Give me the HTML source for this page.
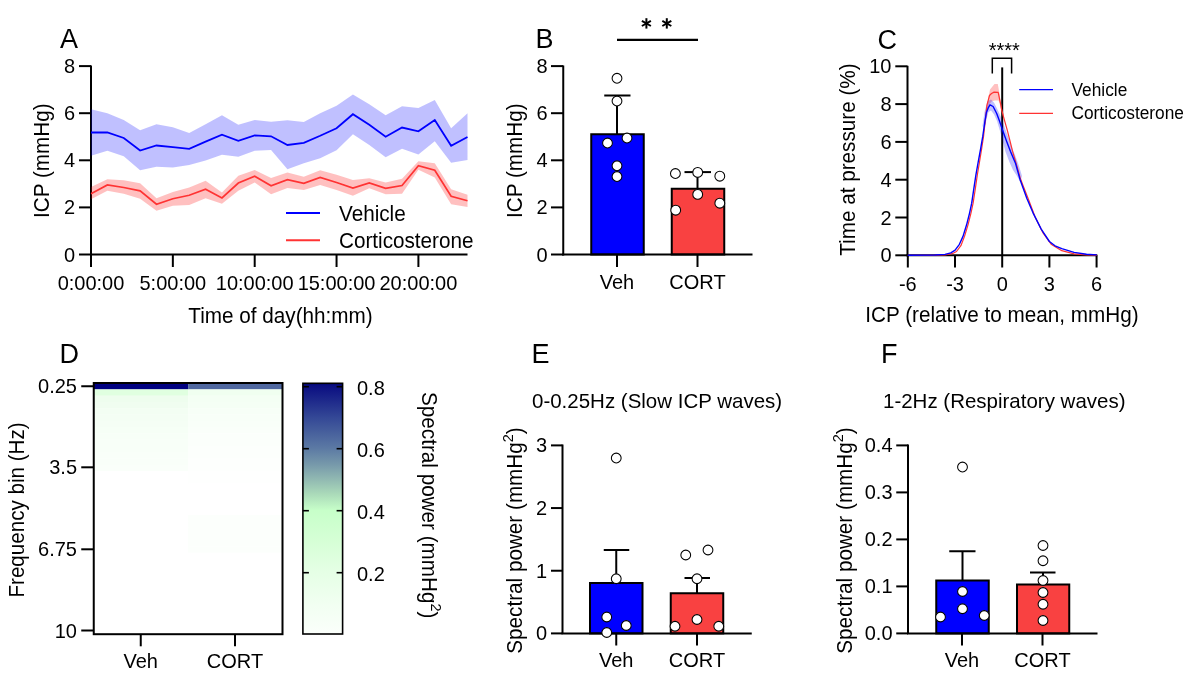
<!DOCTYPE html>
<html><head><meta charset="utf-8"><style>
html,body{margin:0;padding:0;background:#fff;}
svg{display:block;font-family:"Liberation Sans", sans-serif;will-change:transform;}
text{fill:#000;}
</style></head><body>
<svg width="1200" height="680" viewBox="0 0 1200 680">
<rect width="1200" height="680" fill="#fff"/>
<line x1="91" y1="65.5" x2="91" y2="255.5" stroke="#000" stroke-width="2" stroke-linecap="butt"/>
<line x1="90" y1="254.5" x2="467.5" y2="254.5" stroke="#000" stroke-width="2" stroke-linecap="butt"/>
<line x1="79" y1="254.5" x2="91" y2="254.5" stroke="#000" stroke-width="2" stroke-linecap="butt"/>
<text x="0" y="0" font-size="20" text-anchor="end" transform="translate(75.00,261.50) scale(1,1.05)" >0</text>
<line x1="79" y1="207.4" x2="91" y2="207.4" stroke="#000" stroke-width="2" stroke-linecap="butt"/>
<text x="0" y="0" font-size="20" text-anchor="end" transform="translate(75.00,214.40) scale(1,1.05)" >2</text>
<line x1="79" y1="160.3" x2="91" y2="160.3" stroke="#000" stroke-width="2" stroke-linecap="butt"/>
<text x="0" y="0" font-size="20" text-anchor="end" transform="translate(75.00,167.30) scale(1,1.05)" >4</text>
<line x1="79" y1="113.19999999999999" x2="91" y2="113.19999999999999" stroke="#000" stroke-width="2" stroke-linecap="butt"/>
<text x="0" y="0" font-size="20" text-anchor="end" transform="translate(75.00,120.20) scale(1,1.05)" >6</text>
<line x1="79" y1="66.1" x2="91" y2="66.1" stroke="#000" stroke-width="2" stroke-linecap="butt"/>
<text x="0" y="0" font-size="20" text-anchor="end" transform="translate(75.00,73.10) scale(1,1.05)" >8</text>
<line x1="91.0" y1="254.5" x2="91.0" y2="267" stroke="#000" stroke-width="2" stroke-linecap="butt"/>
<text x="0" y="0" font-size="20" text-anchor="middle" transform="translate(91.00,290.00) scale(1,1.05)" >0:00:00</text>
<line x1="172.85000000000002" y1="254.5" x2="172.85000000000002" y2="267" stroke="#000" stroke-width="2" stroke-linecap="butt"/>
<text x="0" y="0" font-size="20" text-anchor="middle" transform="translate(172.85,290.00) scale(1,1.05)" >5:00:00</text>
<line x1="254.70000000000002" y1="254.5" x2="254.70000000000002" y2="267" stroke="#000" stroke-width="2" stroke-linecap="butt"/>
<text x="0" y="0" font-size="20" text-anchor="middle" transform="translate(254.70,290.00) scale(1,1.05)" >10:00:00</text>
<line x1="336.55" y1="254.5" x2="336.55" y2="267" stroke="#000" stroke-width="2" stroke-linecap="butt"/>
<text x="0" y="0" font-size="20" text-anchor="middle" transform="translate(336.55,290.00) scale(1,1.05)" >15:00:00</text>
<line x1="418.40000000000003" y1="254.5" x2="418.40000000000003" y2="267" stroke="#000" stroke-width="2" stroke-linecap="butt"/>
<text x="0" y="0" font-size="20" text-anchor="middle" transform="translate(418.40,290.00) scale(1,1.05)" >20:00:00</text>
<polygon points="91.00,109.20 107.37,113.30 123.74,120.00 140.11,130.30 156.48,124.20 172.85,127.20 189.22,133.00 205.59,124.20 221.96,115.30 238.33,124.70 254.70,120.00 271.07,121.70 287.44,120.30 303.81,122.00 320.18,113.30 336.55,105.80 352.92,94.50 369.29,104.20 385.66,115.30 402.03,106.30 418.40,108.00 434.77,100.00 451.14,128.30 467.51,113.30 467.51,160.00 451.14,162.80 434.77,141.20 418.40,154.50 402.03,148.80 385.66,157.20 369.29,145.00 352.92,134.20 336.55,150.30 320.18,158.30 303.81,163.30 287.44,169.20 271.07,150.00 254.70,150.80 238.33,156.70 221.96,154.70 205.59,160.50 189.22,165.00 172.85,167.50 156.48,166.70 140.11,170.30 123.74,156.30 107.37,150.80 91.00,155.80" fill="rgba(0,0,255,0.247)"/>
<polygon points="91.00,187.00 107.37,179.20 123.74,180.30 140.11,183.30 156.48,198.30 172.85,192.00 189.22,187.50 205.59,180.80 221.96,192.50 238.33,175.80 254.70,170.00 271.07,178.00 287.44,172.50 303.81,176.70 320.18,170.30 336.55,174.70 352.92,180.00 369.29,178.30 385.66,182.50 402.03,178.70 418.40,161.30 434.77,163.30 451.14,189.20 467.51,194.70 467.51,207.00 451.14,204.20 434.77,177.50 418.40,169.70 402.03,193.70 385.66,194.20 369.29,188.30 352.92,195.80 336.55,190.00 320.18,185.00 303.81,190.00 287.44,188.00 271.07,194.20 254.70,182.50 238.33,190.80 221.96,203.70 205.59,198.30 189.22,205.00 172.85,205.80 156.48,210.80 140.11,198.70 123.74,193.70 107.37,190.80 91.00,199.20" fill="rgba(255,0,0,0.247)"/>
<polyline points="91.00,132.50 107.37,132.50 123.74,138.00 140.11,150.50 156.48,145.50 172.85,147.20 189.22,148.80 205.59,141.70 221.96,134.70 238.33,140.80 254.70,135.30 271.07,136.30 287.44,145.00 303.81,142.80 320.18,135.80 336.55,128.30 352.92,114.20 369.29,124.70 385.66,136.70 402.03,127.50 418.40,131.30 434.77,120.00 451.14,145.80 467.51,137.00" fill="none" stroke="#0000ff" stroke-width="1.8" stroke-linejoin="miter"/>
<polyline points="91.00,193.70 107.37,185.00 123.74,187.50 140.11,190.80 156.48,204.20 172.85,198.70 189.22,195.30 205.59,189.20 221.96,198.00 238.33,183.00 254.70,176.30 271.07,185.80 287.44,179.70 303.81,183.30 320.18,177.50 336.55,182.50 352.92,188.00 369.29,183.00 385.66,188.30 402.03,185.50 418.40,165.80 434.77,170.30 451.14,196.30 467.51,200.80" fill="none" stroke="#ff3333" stroke-width="1.7" stroke-linejoin="miter"/>
<text x="0" y="0" font-size="20.7" text-anchor="middle" transform="translate(280.50,323.00) scale(1,1.03)" >Time of day(hh:mm)</text>
<text x="0" y="0" font-size="20.7" text-anchor="middle" transform="translate(49,160.6) rotate(-90) scale(1,1.03)">ICP (mmHg)</text>
<text x="60" y="48" font-size="27" text-anchor="start" >A</text>
<line x1="286" y1="213" x2="320" y2="213" stroke="#0000ff" stroke-width="2" stroke-linecap="butt"/>
<line x1="286" y1="240.3" x2="320" y2="240.3" stroke="#ff3333" stroke-width="2" stroke-linecap="butt"/>
<text x="0" y="0" font-size="20.7" text-anchor="start" transform="translate(339.00,220.80) scale(1,1.03)" >Vehicle</text>
<text x="0" y="0" font-size="20.7" text-anchor="start" transform="translate(339.00,247.50) scale(1,1.03)" >Corticosterone</text>
<rect x="591.25" y="134.25" width="52.5" height="120.25" fill="#0000ff" stroke="#000" stroke-width="2"/>
<rect x="671.75" y="188.75" width="52.5" height="65.75" fill="#f94141" stroke="#000" stroke-width="2"/>
<line x1="617" y1="134.25" x2="617" y2="95.5" stroke="#000" stroke-width="2" stroke-linecap="butt"/>
<line x1="604.25" y1="95.5" x2="630.5" y2="95.5" stroke="#000" stroke-width="2" stroke-linecap="butt"/>
<line x1="697.5" y1="188.75" x2="697.5" y2="172.1" stroke="#000" stroke-width="2" stroke-linecap="butt"/>
<line x1="684.5" y1="172.1" x2="711" y2="172.1" stroke="#000" stroke-width="2" stroke-linecap="butt"/>
<line x1="563.25" y1="65.5" x2="563.25" y2="255.5" stroke="#000" stroke-width="2" stroke-linecap="butt"/>
<line x1="562.25" y1="254.5" x2="752.5" y2="254.5" stroke="#000" stroke-width="2" stroke-linecap="butt"/>
<line x1="551" y1="254.5" x2="563.25" y2="254.5" stroke="#000" stroke-width="2" stroke-linecap="butt"/>
<text x="0" y="0" font-size="20" text-anchor="end" transform="translate(547.50,261.50) scale(1,1.05)" >0</text>
<line x1="551" y1="207.4" x2="563.25" y2="207.4" stroke="#000" stroke-width="2" stroke-linecap="butt"/>
<text x="0" y="0" font-size="20" text-anchor="end" transform="translate(547.50,214.40) scale(1,1.05)" >2</text>
<line x1="551" y1="160.3" x2="563.25" y2="160.3" stroke="#000" stroke-width="2" stroke-linecap="butt"/>
<text x="0" y="0" font-size="20" text-anchor="end" transform="translate(547.50,167.30) scale(1,1.05)" >4</text>
<line x1="551" y1="113.19999999999999" x2="563.25" y2="113.19999999999999" stroke="#000" stroke-width="2" stroke-linecap="butt"/>
<text x="0" y="0" font-size="20" text-anchor="end" transform="translate(547.50,120.20) scale(1,1.05)" >6</text>
<line x1="551" y1="66.1" x2="563.25" y2="66.1" stroke="#000" stroke-width="2" stroke-linecap="butt"/>
<text x="0" y="0" font-size="20" text-anchor="end" transform="translate(547.50,73.10) scale(1,1.05)" >8</text>
<line x1="617" y1="254.5" x2="617" y2="267" stroke="#000" stroke-width="2" stroke-linecap="butt"/>
<line x1="697.5" y1="254.5" x2="697.5" y2="267" stroke="#000" stroke-width="2" stroke-linecap="butt"/>
<text x="0" y="0" font-size="20" text-anchor="middle" transform="translate(617.00,288.90) scale(1,1.05)" >Veh</text>
<text x="0" y="0" font-size="20" text-anchor="middle" transform="translate(697.50,288.90) scale(1,1.05)" >CORT</text>
<text x="0" y="0" font-size="20.7" text-anchor="middle" transform="translate(522,160.7) rotate(-90) scale(1,1.03)">ICP (mmHg)</text>
<text x="535.5" y="48" font-size="27" text-anchor="start" >B</text>
<circle cx="617" cy="78.25" r="4.9" fill="#fff" stroke="#000" stroke-width="1.05"/>
<circle cx="617" cy="101" r="4.9" fill="#fff" stroke="#000" stroke-width="1.05"/>
<circle cx="607.5" cy="143" r="4.9" fill="#fff" stroke="#000" stroke-width="1.05"/>
<circle cx="627" cy="138" r="4.9" fill="#fff" stroke="#000" stroke-width="1.05"/>
<circle cx="617" cy="165.75" r="4.9" fill="#fff" stroke="#000" stroke-width="1.05"/>
<circle cx="617" cy="176.5" r="4.9" fill="#fff" stroke="#000" stroke-width="1.05"/>
<circle cx="675.4" cy="173.5" r="4.9" fill="#fff" stroke="#000" stroke-width="1.05"/>
<circle cx="697.7" cy="172.4" r="4.9" fill="#fff" stroke="#000" stroke-width="1.05"/>
<circle cx="719.8" cy="176.2" r="4.9" fill="#fff" stroke="#000" stroke-width="1.05"/>
<circle cx="697.7" cy="194.4" r="4.9" fill="#fff" stroke="#000" stroke-width="1.05"/>
<circle cx="719.8" cy="203.2" r="4.9" fill="#fff" stroke="#000" stroke-width="1.05"/>
<circle cx="675.7" cy="210.2" r="4.9" fill="#fff" stroke="#000" stroke-width="1.05"/>
<line x1="617" y1="39.9" x2="698" y2="39.9" stroke="#000" stroke-width="2.2" stroke-linecap="butt"/>
<line x1="646.4" y1="18.2" x2="646.4" y2="28.6" stroke="#000" stroke-width="2" stroke-linecap="butt"/>
<line x1="641.9" y1="20.8" x2="650.9" y2="26.0" stroke="#000" stroke-width="2" stroke-linecap="butt"/>
<line x1="641.9" y1="26.0" x2="650.9" y2="20.8" stroke="#000" stroke-width="2" stroke-linecap="butt"/>
<line x1="666.8" y1="18.2" x2="666.8" y2="28.6" stroke="#000" stroke-width="2" stroke-linecap="butt"/>
<line x1="662.3" y1="20.8" x2="671.3" y2="26.0" stroke="#000" stroke-width="2" stroke-linecap="butt"/>
<line x1="662.3" y1="26.0" x2="671.3" y2="20.8" stroke="#000" stroke-width="2" stroke-linecap="butt"/>
<line x1="907.5" y1="65.8" x2="907.5" y2="256.3" stroke="#000" stroke-width="2" stroke-linecap="butt"/>
<line x1="906.5" y1="255.3" x2="1097.3" y2="255.3" stroke="#000" stroke-width="2" stroke-linecap="butt"/>
<line x1="895.3" y1="255.3" x2="907.5" y2="255.3" stroke="#000" stroke-width="2" stroke-linecap="butt"/>
<text x="0" y="0" font-size="20" text-anchor="end" transform="translate(891.50,262.30) scale(1,1.05)" >0</text>
<line x1="895.3" y1="217.5" x2="907.5" y2="217.5" stroke="#000" stroke-width="2" stroke-linecap="butt"/>
<text x="0" y="0" font-size="20" text-anchor="end" transform="translate(891.50,224.50) scale(1,1.05)" >2</text>
<line x1="895.3" y1="179.70000000000002" x2="907.5" y2="179.70000000000002" stroke="#000" stroke-width="2" stroke-linecap="butt"/>
<text x="0" y="0" font-size="20" text-anchor="end" transform="translate(891.50,186.70) scale(1,1.05)" >4</text>
<line x1="895.3" y1="141.90000000000003" x2="907.5" y2="141.90000000000003" stroke="#000" stroke-width="2" stroke-linecap="butt"/>
<text x="0" y="0" font-size="20" text-anchor="end" transform="translate(891.50,148.90) scale(1,1.05)" >6</text>
<line x1="895.3" y1="104.10000000000002" x2="907.5" y2="104.10000000000002" stroke="#000" stroke-width="2" stroke-linecap="butt"/>
<text x="0" y="0" font-size="20" text-anchor="end" transform="translate(891.50,111.10) scale(1,1.05)" >8</text>
<line x1="895.3" y1="66.30000000000001" x2="907.5" y2="66.30000000000001" stroke="#000" stroke-width="2" stroke-linecap="butt"/>
<text x="0" y="0" font-size="20" text-anchor="end" transform="translate(891.50,73.30) scale(1,1.05)" >10</text>
<line x1="907.82" y1="255.3" x2="907.82" y2="267.5" stroke="#000" stroke-width="2" stroke-linecap="butt"/>
<text x="0" y="0" font-size="20" text-anchor="middle" transform="translate(907.82,290.80) scale(1,1.05)" >-6</text>
<line x1="955.01" y1="255.3" x2="955.01" y2="267.5" stroke="#000" stroke-width="2" stroke-linecap="butt"/>
<text x="0" y="0" font-size="20" text-anchor="middle" transform="translate(955.01,290.80) scale(1,1.05)" >-3</text>
<line x1="1002.2" y1="255.3" x2="1002.2" y2="267.5" stroke="#000" stroke-width="2" stroke-linecap="butt"/>
<text x="0" y="0" font-size="20" text-anchor="middle" transform="translate(1002.20,290.80) scale(1,1.05)" >0</text>
<line x1="1049.39" y1="255.3" x2="1049.39" y2="267.5" stroke="#000" stroke-width="2" stroke-linecap="butt"/>
<text x="0" y="0" font-size="20" text-anchor="middle" transform="translate(1049.39,290.80) scale(1,1.05)" >3</text>
<line x1="1096.58" y1="255.3" x2="1096.58" y2="267.5" stroke="#000" stroke-width="2" stroke-linecap="butt"/>
<text x="0" y="0" font-size="20" text-anchor="middle" transform="translate(1096.58,290.80) scale(1,1.05)" >6</text>
<line x1="1002.2" y1="67.4" x2="1002.2" y2="255.3" stroke="#000" stroke-width="2" stroke-linecap="butt"/>
<polygon points="984.00,126.00 986.50,110.00 988.50,97.00 990.00,89.60 994.50,84.00 997.80,84.00 999.30,92.50 1000.50,100.00 1002.00,108.00 1003.50,114.00 1003.00,118.00 1001.00,110.00 999.50,103.00 998.50,100.60 994.90,100.60 991.90,101.30 989.50,104.00 987.50,112.00 985.50,124.00" fill="rgba(255,0,0,0.247)"/>
<polygon points="982.50,126.00 984.50,112.00 987.40,101.20 991.00,99.60 994.10,102.70 997.00,108.40 1000.50,116.00 1003.50,124.00 1007.00,134.00 1011.00,145.00 1015.00,155.00 1019.00,166.00 1022.00,176.00 1020.20,182.00 1017.00,176.00 1013.00,170.00 1009.40,162.00 1005.30,151.20 1002.70,141.00 1000.00,131.00 997.00,121.00 994.10,114.50 991.00,110.50 988.50,112.00 986.50,119.00 984.50,130.00" fill="rgba(0,0,255,0.247)"/>
<polyline points="907.80,255.30 935.00,255.20 945.00,254.90 952.20,253.70 956.50,251.50 960.90,245.70 964.50,236.40 968.00,224.80 970.90,213.30 973.10,203.20 975.30,188.80 977.40,174.40 979.50,162.00 981.70,148.50 983.60,136.00 985.20,121.00 986.90,105.30 989.50,95.50 991.50,93.50 994.10,92.10 998.20,92.40 999.60,99.10 1000.70,104.30 1001.70,110.00 1004.50,120.30 1007.40,130.60 1010.00,141.00 1012.50,151.20 1015.60,161.50 1020.20,178.00 1022.80,185.00 1028.80,200.30 1035.00,216.80 1043.20,233.20 1051.50,244.60 1061.80,250.70 1074.10,253.80 1086.50,254.80 1096.80,255.10" fill="none" stroke="#ff3333" stroke-width="1.2" stroke-linejoin="round"/>
<polyline points="907.80,255.20 935.00,255.00 945.00,254.40 950.80,252.90 955.10,250.10 959.40,244.30 963.00,236.40 966.60,224.80 969.50,213.30 971.70,203.20 973.80,188.80 976.00,174.40 978.20,162.00 980.70,148.50 982.80,136.20 984.90,121.70 986.40,112.50 988.50,107.30 990.00,104.80 993.10,106.50 996.70,113.50 999.50,121.00 1002.70,130.60 1006.50,141.00 1010.40,151.20 1015.60,163.60 1020.20,180.00 1026.80,198.20 1032.90,212.60 1041.20,229.10 1049.40,241.50 1055.00,245.80 1061.80,248.70 1074.10,252.40 1086.50,254.20 1096.80,254.90" fill="none" stroke="#0000ff" stroke-width="1.4" stroke-linejoin="round"/>
<polyline points="992.3,73.4 992.3,58.3 1011.6,58.3 1011.6,73.4" fill="none" stroke="#000" stroke-width="1.5"/>
<text x="0" y="0" font-size="20" text-anchor="middle" transform="translate(1004.30,57.30) scale(1,1.05)" >****</text>
<text x="0" y="0" font-size="20.7" text-anchor="middle" transform="translate(1001.90,322.20) scale(1,1.03)" >ICP (relative to mean, mmHg)</text>
<text x="0" y="0" font-size="20.7" text-anchor="middle" transform="translate(855,159.6) rotate(-90) scale(1,1.03)">Time at pressure (%)</text>
<text x="877.5" y="49" font-size="27" text-anchor="start" >C</text>
<line x1="1019.2" y1="89.7" x2="1053" y2="89.7" stroke="#0000ff" stroke-width="1.2" stroke-linecap="butt"/>
<line x1="1019.2" y1="113.3" x2="1053" y2="113.3" stroke="#ff3333" stroke-width="1.2" stroke-linecap="butt"/>
<text x="0" y="0" font-size="17.3" text-anchor="start" transform="translate(1071.50,95.50) scale(1,1.03)" >Vehicle</text>
<text x="0" y="0" font-size="17.3" text-anchor="start" transform="translate(1071.50,119.20) scale(1,1.03)" >Corticosterone</text>
<rect x="93.75" y="383.00" width="94.38" height="6.58" fill="#000080"/>
<rect x="188.125" y="383.00" width="94.38" height="6.58" fill="#5068a0"/>
<rect x="93.75" y="389.28" width="94.38" height="6.58" fill="#e0ffe0"/>
<rect x="188.125" y="389.28" width="94.38" height="6.58" fill="#f0fff0"/>
<rect x="93.75" y="395.56" width="94.38" height="6.58" fill="#eefdee"/>
<rect x="188.125" y="395.56" width="94.38" height="6.58" fill="#f4fff4"/>
<rect x="93.75" y="401.84" width="94.38" height="6.58" fill="#f0fdf0"/>
<rect x="188.125" y="401.84" width="94.38" height="6.58" fill="#f5fff5"/>
<rect x="93.75" y="408.12" width="94.38" height="6.58" fill="#f3fef3"/>
<rect x="188.125" y="408.12" width="94.38" height="6.58" fill="#f7fff7"/>
<rect x="93.75" y="414.40" width="94.38" height="6.58" fill="#f4fef4"/>
<rect x="188.125" y="414.40" width="94.38" height="6.58" fill="#f8fff8"/>
<rect x="93.75" y="420.68" width="94.38" height="6.58" fill="#f5fef5"/>
<rect x="188.125" y="420.68" width="94.38" height="6.58" fill="#f9fff9"/>
<rect x="93.75" y="426.96" width="94.38" height="6.58" fill="#f6fff6"/>
<rect x="188.125" y="426.96" width="94.38" height="6.58" fill="#fafffa"/>
<rect x="93.75" y="433.24" width="94.38" height="6.58" fill="#f7fff7"/>
<rect x="188.125" y="433.24" width="94.38" height="6.58" fill="#fbfffb"/>
<rect x="93.75" y="439.52" width="94.38" height="6.58" fill="#f8fff8"/>
<rect x="188.125" y="439.52" width="94.38" height="6.58" fill="#fbfffb"/>
<rect x="93.75" y="445.80" width="94.38" height="6.58" fill="#f8fff8"/>
<rect x="188.125" y="445.80" width="94.38" height="6.58" fill="#fcfffc"/>
<rect x="93.75" y="452.08" width="94.38" height="6.58" fill="#f9fff9"/>
<rect x="188.125" y="452.08" width="94.38" height="6.58" fill="#fcfffc"/>
<rect x="93.75" y="458.36" width="94.38" height="6.58" fill="#f9fff9"/>
<rect x="188.125" y="458.36" width="94.38" height="6.58" fill="#fdfffd"/>
<rect x="93.75" y="464.64" width="94.38" height="6.58" fill="#fafffa"/>
<rect x="188.125" y="464.64" width="94.38" height="6.58" fill="#fdfffd"/>
<rect x="93.75" y="470.92" width="94.38" height="6.58" fill="#ffffff"/>
<rect x="188.125" y="470.92" width="94.38" height="6.58" fill="#fefffe"/>
<rect x="93.75" y="477.20" width="94.38" height="6.58" fill="#ffffff"/>
<rect x="188.125" y="477.20" width="94.38" height="6.58" fill="#fefffe"/>
<rect x="93.75" y="483.48" width="94.38" height="6.58" fill="#ffffff"/>
<rect x="188.125" y="483.48" width="94.38" height="6.58" fill="#ffffff"/>
<rect x="93.75" y="489.76" width="94.38" height="6.58" fill="#ffffff"/>
<rect x="188.125" y="489.76" width="94.38" height="6.58" fill="#ffffff"/>
<rect x="93.75" y="496.04" width="94.38" height="6.58" fill="#ffffff"/>
<rect x="188.125" y="496.04" width="94.38" height="6.58" fill="#ffffff"/>
<rect x="93.75" y="502.32" width="94.38" height="6.58" fill="#ffffff"/>
<rect x="188.125" y="502.32" width="94.38" height="6.58" fill="#ffffff"/>
<rect x="93.75" y="508.60" width="94.38" height="6.58" fill="#ffffff"/>
<rect x="188.125" y="508.60" width="94.38" height="6.58" fill="#ffffff"/>
<rect x="93.75" y="514.88" width="94.38" height="6.58" fill="#ffffff"/>
<rect x="188.125" y="514.88" width="94.38" height="6.58" fill="#fcfffc"/>
<rect x="93.75" y="521.16" width="94.38" height="6.58" fill="#ffffff"/>
<rect x="188.125" y="521.16" width="94.38" height="6.58" fill="#fcfffc"/>
<rect x="93.75" y="527.44" width="94.38" height="6.58" fill="#ffffff"/>
<rect x="188.125" y="527.44" width="94.38" height="6.58" fill="#fcfffc"/>
<rect x="93.75" y="533.72" width="94.38" height="6.58" fill="#ffffff"/>
<rect x="188.125" y="533.72" width="94.38" height="6.58" fill="#fcfffc"/>
<rect x="93.75" y="540.00" width="94.38" height="6.58" fill="#ffffff"/>
<rect x="188.125" y="540.00" width="94.38" height="6.58" fill="#fcfffc"/>
<rect x="93.75" y="546.28" width="94.38" height="6.58" fill="#ffffff"/>
<rect x="188.125" y="546.28" width="94.38" height="6.58" fill="#fcfffc"/>
<rect x="93.75" y="552.56" width="94.38" height="6.58" fill="#ffffff"/>
<rect x="188.125" y="552.56" width="94.38" height="6.58" fill="#ffffff"/>
<rect x="93.75" y="558.84" width="94.38" height="6.58" fill="#ffffff"/>
<rect x="188.125" y="558.84" width="94.38" height="6.58" fill="#ffffff"/>
<rect x="93.75" y="565.12" width="94.38" height="6.58" fill="#ffffff"/>
<rect x="188.125" y="565.12" width="94.38" height="6.58" fill="#ffffff"/>
<rect x="93.75" y="571.40" width="94.38" height="6.58" fill="#ffffff"/>
<rect x="188.125" y="571.40" width="94.38" height="6.58" fill="#ffffff"/>
<rect x="93.75" y="577.68" width="94.38" height="6.58" fill="#ffffff"/>
<rect x="188.125" y="577.68" width="94.38" height="6.58" fill="#ffffff"/>
<rect x="93.75" y="583.96" width="94.38" height="6.58" fill="#ffffff"/>
<rect x="188.125" y="583.96" width="94.38" height="6.58" fill="#ffffff"/>
<rect x="93.75" y="590.24" width="94.38" height="6.58" fill="#ffffff"/>
<rect x="188.125" y="590.24" width="94.38" height="6.58" fill="#ffffff"/>
<rect x="93.75" y="596.52" width="94.38" height="6.58" fill="#ffffff"/>
<rect x="188.125" y="596.52" width="94.38" height="6.58" fill="#ffffff"/>
<rect x="93.75" y="602.80" width="94.38" height="6.58" fill="#ffffff"/>
<rect x="188.125" y="602.80" width="94.38" height="6.58" fill="#ffffff"/>
<rect x="93.75" y="609.08" width="94.38" height="6.58" fill="#ffffff"/>
<rect x="188.125" y="609.08" width="94.38" height="6.58" fill="#ffffff"/>
<rect x="93.75" y="615.36" width="94.38" height="6.58" fill="#ffffff"/>
<rect x="188.125" y="615.36" width="94.38" height="6.58" fill="#ffffff"/>
<rect x="93.75" y="621.64" width="94.38" height="6.58" fill="#ffffff"/>
<rect x="188.125" y="621.64" width="94.38" height="6.58" fill="#ffffff"/>
<rect x="93.75" y="627.92" width="94.38" height="6.58" fill="#ffffff"/>
<rect x="188.125" y="627.92" width="94.38" height="6.58" fill="#ffffff"/>
<rect x="93.75" y="383" width="188.75" height="251.20000000000005" fill="none" stroke="#000" stroke-width="2"/>
<line x1="81.25" y1="386.25" x2="93.75" y2="386.25" stroke="#000" stroke-width="2" stroke-linecap="butt"/>
<text x="0" y="0" font-size="20" text-anchor="end" transform="translate(77.00,393.25) scale(1,1.05)" >0.25</text>
<line x1="81.25" y1="467.3" x2="93.75" y2="467.3" stroke="#000" stroke-width="2" stroke-linecap="butt"/>
<text x="0" y="0" font-size="20" text-anchor="end" transform="translate(77.00,474.30) scale(1,1.05)" >3.5</text>
<line x1="81.25" y1="549.3" x2="93.75" y2="549.3" stroke="#000" stroke-width="2" stroke-linecap="butt"/>
<text x="0" y="0" font-size="20" text-anchor="end" transform="translate(77.00,556.30) scale(1,1.05)" >6.75</text>
<line x1="81.25" y1="630.5" x2="93.75" y2="630.5" stroke="#000" stroke-width="2" stroke-linecap="butt"/>
<text x="0" y="0" font-size="20" text-anchor="end" transform="translate(77.00,637.50) scale(1,1.05)" >10</text>
<line x1="140.75" y1="634.2" x2="140.75" y2="646.3" stroke="#000" stroke-width="2" stroke-linecap="butt"/>
<line x1="235" y1="634.2" x2="235" y2="646.3" stroke="#000" stroke-width="2" stroke-linecap="butt"/>
<text x="0" y="0" font-size="20" text-anchor="middle" transform="translate(140.75,667.70) scale(1,1.05)" >Veh</text>
<text x="0" y="0" font-size="20" text-anchor="middle" transform="translate(235.00,667.70) scale(1,1.05)" >CORT</text>
<text x="0" y="0" font-size="20.6" text-anchor="middle" transform="translate(24.3,510) rotate(-90) scale(1,1.03)">Frequency bin (Hz)</text>
<text x="59.5" y="363" font-size="27" text-anchor="start" >D</text>
<defs><linearGradient id="cbg" x1="0" y1="1" x2="0" y2="0">
<stop offset="0.000" stop-color="#fbfffb"/>
<stop offset="0.123" stop-color="#f1fff1"/>
<stop offset="0.247" stop-color="#e5ffe5"/>
<stop offset="0.370" stop-color="#d6ffd6"/>
<stop offset="0.493" stop-color="#c7ffc9"/>
<stop offset="0.555" stop-color="#acdcba"/>
<stop offset="0.617" stop-color="#91b9b2"/>
<stop offset="0.678" stop-color="#7698aa"/>
<stop offset="0.740" stop-color="#5c7aa4"/>
<stop offset="0.863" stop-color="#344896"/>
<stop offset="0.986" stop-color="#0c1082"/>
<stop offset="1.000" stop-color="#04087e"/>
</linearGradient></defs>
<rect x="302.9" y="383.3" width="39.700000000000045" height="250.7" fill="url(#cbg)" stroke="#000" stroke-width="1.6"/>
<line x1="302.9" y1="572.7" x2="308.9" y2="572.7" stroke="#000" stroke-width="1.6" stroke-linecap="butt"/>
<line x1="336.6" y1="572.7" x2="342.6" y2="572.7" stroke="#000" stroke-width="1.6" stroke-linecap="butt"/>
<text x="0" y="0" font-size="20" text-anchor="start" transform="translate(357.00,581.20) scale(1,1.05)" >0.2</text>
<line x1="302.9" y1="510.70000000000005" x2="308.9" y2="510.70000000000005" stroke="#000" stroke-width="1.6" stroke-linecap="butt"/>
<line x1="336.6" y1="510.70000000000005" x2="342.6" y2="510.70000000000005" stroke="#000" stroke-width="1.6" stroke-linecap="butt"/>
<text x="0" y="0" font-size="20" text-anchor="start" transform="translate(357.00,519.20) scale(1,1.05)" >0.4</text>
<line x1="302.9" y1="448.70000000000005" x2="308.9" y2="448.70000000000005" stroke="#000" stroke-width="1.6" stroke-linecap="butt"/>
<line x1="336.6" y1="448.70000000000005" x2="342.6" y2="448.70000000000005" stroke="#000" stroke-width="1.6" stroke-linecap="butt"/>
<text x="0" y="0" font-size="20" text-anchor="start" transform="translate(357.00,457.20) scale(1,1.05)" >0.6</text>
<line x1="302.9" y1="386.70000000000005" x2="308.9" y2="386.70000000000005" stroke="#000" stroke-width="1.6" stroke-linecap="butt"/>
<line x1="336.6" y1="386.70000000000005" x2="342.6" y2="386.70000000000005" stroke="#000" stroke-width="1.6" stroke-linecap="butt"/>
<text x="0" y="0" font-size="20" text-anchor="start" transform="translate(357.00,395.20) scale(1,1.05)" >0.8</text>
<text x="0" y="0" font-size="20.7" text-anchor="start" transform="translate(421.5,392) rotate(90) scale(1,1.03)">Spectral power (mmHg<tspan font-size="14.5" dy="-9">2</tspan><tspan dy="9">)</tspan></text>
<rect x="590" y="583" width="52.5" height="50.39999999999998" fill="#0000ff" stroke="#000" stroke-width="2"/>
<rect x="670.75" y="593.25" width="52.5" height="40.14999999999998" fill="#f94141" stroke="#000" stroke-width="2"/>
<line x1="616.25" y1="583" x2="616.25" y2="550" stroke="#000" stroke-width="2" stroke-linecap="butt"/>
<line x1="603.75" y1="550" x2="629.25" y2="550" stroke="#000" stroke-width="2" stroke-linecap="butt"/>
<line x1="697" y1="593.25" x2="697" y2="578" stroke="#000" stroke-width="2" stroke-linecap="butt"/>
<line x1="684.5" y1="578" x2="710" y2="578" stroke="#000" stroke-width="2" stroke-linecap="butt"/>
<line x1="562.5" y1="444.5" x2="562.5" y2="634" stroke="#000" stroke-width="2" stroke-linecap="butt"/>
<line x1="561.5" y1="633.4" x2="751.75" y2="633.4" stroke="#000" stroke-width="2" stroke-linecap="butt"/>
<line x1="551" y1="633.4" x2="562.5" y2="633.4" stroke="#000" stroke-width="2" stroke-linecap="butt"/>
<text x="0" y="0" font-size="20" text-anchor="end" transform="translate(547.00,640.40) scale(1,1.05)" >0</text>
<line x1="551" y1="570.73" x2="562.5" y2="570.73" stroke="#000" stroke-width="2" stroke-linecap="butt"/>
<text x="0" y="0" font-size="20" text-anchor="end" transform="translate(547.00,577.73) scale(1,1.05)" >1</text>
<line x1="551" y1="508.05999999999995" x2="562.5" y2="508.05999999999995" stroke="#000" stroke-width="2" stroke-linecap="butt"/>
<text x="0" y="0" font-size="20" text-anchor="end" transform="translate(547.00,515.06) scale(1,1.05)" >2</text>
<line x1="551" y1="445.39" x2="562.5" y2="445.39" stroke="#000" stroke-width="2" stroke-linecap="butt"/>
<text x="0" y="0" font-size="20" text-anchor="end" transform="translate(547.00,452.39) scale(1,1.05)" >3</text>
<line x1="616.25" y1="633.4" x2="616.25" y2="645.5" stroke="#000" stroke-width="2" stroke-linecap="butt"/>
<line x1="697" y1="633.4" x2="697" y2="645.5" stroke="#000" stroke-width="2" stroke-linecap="butt"/>
<circle cx="616.25" cy="458" r="4.9" fill="#fff" stroke="#000" stroke-width="1.05"/>
<circle cx="616.25" cy="578.75" r="4.9" fill="#fff" stroke="#000" stroke-width="1.05"/>
<circle cx="606.75" cy="617" r="4.9" fill="#fff" stroke="#000" stroke-width="1.05"/>
<circle cx="626.25" cy="625.5" r="4.9" fill="#fff" stroke="#000" stroke-width="1.05"/>
<circle cx="606.75" cy="632.5" r="4.9" fill="#fff" stroke="#000" stroke-width="1.05"/>
<circle cx="685.75" cy="555" r="4.9" fill="#fff" stroke="#000" stroke-width="1.05"/>
<circle cx="708" cy="550" r="4.9" fill="#fff" stroke="#000" stroke-width="1.05"/>
<circle cx="697" cy="578.75" r="4.9" fill="#fff" stroke="#000" stroke-width="1.05"/>
<circle cx="697" cy="619.5" r="4.9" fill="#fff" stroke="#000" stroke-width="1.05"/>
<circle cx="675" cy="626.25" r="4.9" fill="#fff" stroke="#000" stroke-width="1.05"/>
<circle cx="718.75" cy="626.25" r="4.9" fill="#fff" stroke="#000" stroke-width="1.05"/>
<text x="0" y="0" font-size="20" text-anchor="middle" transform="translate(616.25,666.70) scale(1,1.05)" >Veh</text>
<text x="0" y="0" font-size="20" text-anchor="middle" transform="translate(697.00,666.70) scale(1,1.05)" >CORT</text>
<text x="0" y="0" font-size="20.5" text-anchor="start" transform="translate(532.00,408.20) scale(1,1.03)" >0-0.25Hz (Slow ICP waves)</text>
<text x="531.5" y="363" font-size="27" text-anchor="start" >E</text>
<text x="0" y="0" font-size="20.7" text-anchor="middle" transform="translate(522,540.5) rotate(-90) scale(1,1.03)">Spectral power (mmHg<tspan font-size="14.5" dy="-9">2</tspan><tspan dy="9">)</tspan></text>
<rect x="936.25" y="580.5" width="52.5" height="52.89999999999998" fill="#0000ff" stroke="#000" stroke-width="2"/>
<rect x="1017" y="584.5" width="52.25" height="48.89999999999998" fill="#f94141" stroke="#000" stroke-width="2"/>
<line x1="962.5" y1="580.5" x2="962.5" y2="551.25" stroke="#000" stroke-width="2" stroke-linecap="butt"/>
<line x1="949.25" y1="551.25" x2="975.5" y2="551.25" stroke="#000" stroke-width="2" stroke-linecap="butt"/>
<line x1="1043" y1="584.5" x2="1043" y2="572.5" stroke="#000" stroke-width="2" stroke-linecap="butt"/>
<line x1="1030" y1="572.5" x2="1055.5" y2="572.5" stroke="#000" stroke-width="2" stroke-linecap="butt"/>
<line x1="908" y1="444.5" x2="908" y2="634" stroke="#000" stroke-width="2" stroke-linecap="butt"/>
<line x1="907" y1="633.4" x2="1097.5" y2="633.4" stroke="#000" stroke-width="2" stroke-linecap="butt"/>
<line x1="896.25" y1="633.4" x2="908" y2="633.4" stroke="#000" stroke-width="2" stroke-linecap="butt"/>
<text x="0" y="0" font-size="20" text-anchor="end" transform="translate(892.50,640.40) scale(1,1.05)" >0.0</text>
<line x1="896.25" y1="586.4" x2="908" y2="586.4" stroke="#000" stroke-width="2" stroke-linecap="butt"/>
<text x="0" y="0" font-size="20" text-anchor="end" transform="translate(892.50,593.40) scale(1,1.05)" >0.1</text>
<line x1="896.25" y1="539.4" x2="908" y2="539.4" stroke="#000" stroke-width="2" stroke-linecap="butt"/>
<text x="0" y="0" font-size="20" text-anchor="end" transform="translate(892.50,546.40) scale(1,1.05)" >0.2</text>
<line x1="896.25" y1="492.4" x2="908" y2="492.4" stroke="#000" stroke-width="2" stroke-linecap="butt"/>
<text x="0" y="0" font-size="20" text-anchor="end" transform="translate(892.50,499.40) scale(1,1.05)" >0.3</text>
<line x1="896.25" y1="445.4" x2="908" y2="445.4" stroke="#000" stroke-width="2" stroke-linecap="butt"/>
<text x="0" y="0" font-size="20" text-anchor="end" transform="translate(892.50,452.40) scale(1,1.05)" >0.4</text>
<line x1="962" y1="633.4" x2="962" y2="645.5" stroke="#000" stroke-width="2" stroke-linecap="butt"/>
<line x1="1042.5" y1="633.4" x2="1042.5" y2="645.5" stroke="#000" stroke-width="2" stroke-linecap="butt"/>
<circle cx="962.5" cy="467" r="4.9" fill="#fff" stroke="#000" stroke-width="1.05"/>
<circle cx="962.5" cy="591.5" r="4.9" fill="#fff" stroke="#000" stroke-width="1.05"/>
<circle cx="962.5" cy="608.75" r="4.9" fill="#fff" stroke="#000" stroke-width="1.05"/>
<circle cx="940.5" cy="617" r="4.9" fill="#fff" stroke="#000" stroke-width="1.05"/>
<circle cx="984.25" cy="615.5" r="4.9" fill="#fff" stroke="#000" stroke-width="1.05"/>
<circle cx="1043" cy="545.5" r="4.9" fill="#fff" stroke="#000" stroke-width="1.05"/>
<circle cx="1043" cy="560.75" r="4.9" fill="#fff" stroke="#000" stroke-width="1.05"/>
<circle cx="1043" cy="580.5" r="4.9" fill="#fff" stroke="#000" stroke-width="1.05"/>
<circle cx="1043" cy="592.5" r="4.9" fill="#fff" stroke="#000" stroke-width="1.05"/>
<circle cx="1043" cy="604.25" r="4.9" fill="#fff" stroke="#000" stroke-width="1.05"/>
<circle cx="1043" cy="620.5" r="4.9" fill="#fff" stroke="#000" stroke-width="1.05"/>
<text x="0" y="0" font-size="20" text-anchor="middle" transform="translate(962.00,666.70) scale(1,1.05)" >Veh</text>
<text x="0" y="0" font-size="20" text-anchor="middle" transform="translate(1042.50,666.70) scale(1,1.05)" >CORT</text>
<text x="0" y="0" font-size="20.5" text-anchor="start" transform="translate(883.00,408.20) scale(1,1.03)" >1-2Hz (Respiratory waves)</text>
<text x="881" y="363" font-size="27" text-anchor="start" >F</text>
<text x="0" y="0" font-size="20.7" text-anchor="middle" transform="translate(852,540.5) rotate(-90) scale(1,1.03)">Spectral power (mmHg<tspan font-size="14.5" dy="-9">2</tspan><tspan dy="9">)</tspan></text>
</svg></body></html>
